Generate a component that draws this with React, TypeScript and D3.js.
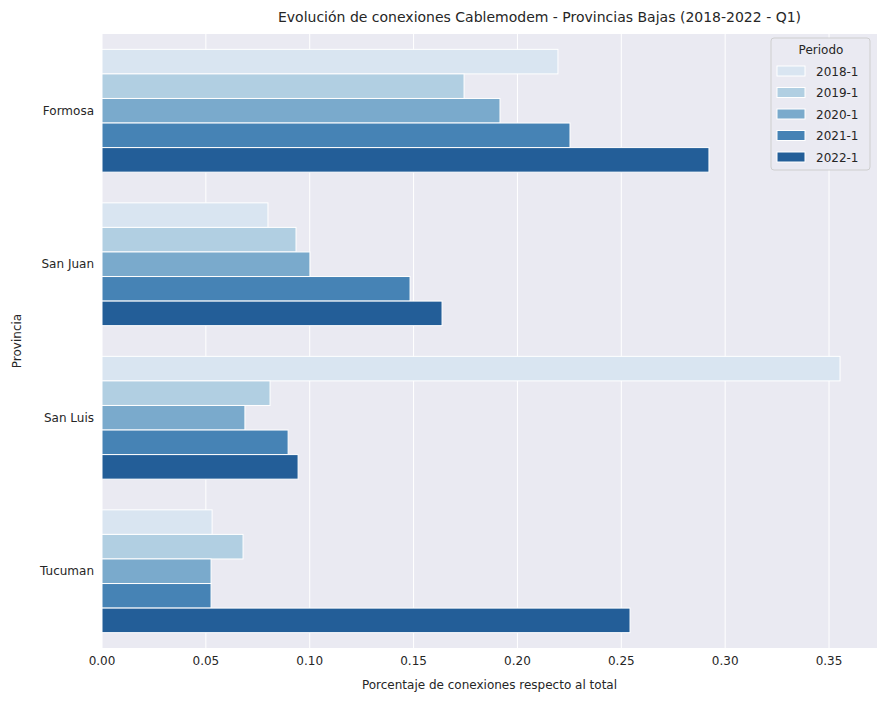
import { useEffect, useRef } from 'react'
import * as d3 from 'd3'

const PROVINCES = ['Formosa', 'San Juan', 'San Luis', 'Tucuman']
const PERIODS = ['2018-1', '2019-1', '2020-1', '2021-1', '2022-1']
const COLORS = ['#d9e5f1', '#b1cfe2', '#7aaacc', '#4683b5', '#235e98']
// values per province, one per period
const FORMOSA = [0.2195, 0.1743, 0.1916, 0.2253, 0.2922]
const SAN_JUAN = [0.0799, 0.0934, 0.1001, 0.1483, 0.1637]
const SAN_LUIS = [0.3553, 0.0809, 0.0688, 0.0896, 0.0944]
const TUCUMAN = [0.053, 0.0679, 0.0525, 0.0525, 0.2542]
const VALUES = [FORMOSA, SAN_JUAN, SAN_LUIS, TUCUMAN]
const X_TICKS = [0, 0.05, 0.1, 0.15, 0.2, 0.25, 0.3, 0.35]

export default function App() {
  const svgRef = useRef<SVGSVGElement>(null)

  useEffect(() => {
    const svg = d3.select(svgRef.current)
    svg.selectAll('*').remove()
    const font = '"DejaVu Sans", sans-serif'
    const left = 102, right = 877, top = 34, bottom = 648

    const x = d3.scaleLinear().domain([0, 0.3731]).range([left, right])
    const y = d3.scaleBand().domain(PROVINCES).range([top, bottom]).paddingInner(0.2).paddingOuter(0.1)
    const inner = d3.scaleBand().domain(PERIODS).range([0, y.bandwidth()])

    svg.append('rect').attr('x', left).attr('y', top).attr('width', right - left).attr('height', bottom - top).attr('fill', '#eaeaf2')

    X_TICKS.forEach(t => {
      svg.append('line').attr('x1', x(t)).attr('x2', x(t)).attr('y1', top).attr('y2', bottom).attr('stroke', '#fff').attr('stroke-width', 1)
      svg.append('text').attr('x', x(t)).attr('y', bottom + 17).attr('text-anchor', 'middle')
        .attr('font-size', 12).attr('font-family', font).attr('fill', '#262626').text(t.toFixed(2))
    })

    PROVINCES.forEach((p, i) => {
      PERIODS.forEach((per, j) => {
        svg.append('rect')
          .attr('x', x(0)).attr('y', y(p)! + inner(per)!)
          .attr('width', x(VALUES[i][j]) - x(0)).attr('height', inner.bandwidth())
          .attr('fill', COLORS[j]).attr('stroke', '#fff').attr('stroke-width', 1)
      })
      svg.append('text').attr('x', left - 8).attr('y', y(p)! + y.bandwidth() / 2 + 4)
        .attr('text-anchor', 'end').attr('font-size', 12).attr('font-family', font).attr('fill', '#262626').text(p)
    })

    svg.append('text').attr('x', (left + right) / 2 + 50).attr('y', 22).attr('text-anchor', 'middle')
      .attr('font-size', 14).attr('font-family', font).attr('fill', '#262626')
      .text('Evolución de conexiones Cablemodem - Provincias Bajas (2018-2022 - Q1)')
    svg.append('text').attr('x', (left + right) / 2).attr('y', 689).attr('text-anchor', 'middle')
      .attr('font-size', 12).attr('font-family', font).attr('fill', '#262626')
      .text('Porcentaje de conexiones respecto al total')
    svg.append('text').attr('transform', `translate(21,${(top + bottom) / 2}) rotate(-90)`).attr('text-anchor', 'middle')
      .attr('font-size', 12).attr('font-family', font).attr('fill', '#262626').text('Provincia')

    const lg = svg.append('g').attr('transform', 'translate(771,38)')
    lg.append('rect').attr('width', 99).attr('height', 132).attr('rx', 3).attr('fill', '#eaeaf2').attr('stroke', '#cccccc').attr('opacity', 0.9)
    lg.append('text').attr('x', 50).attr('y', 16).attr('text-anchor', 'middle').attr('font-size', 12).attr('font-family', font).attr('fill', '#262626').text('Periodo')
    PERIODS.forEach((per, j) => {
      const yy = 28 + j * 21.5
      lg.append('rect').attr('x', 6).attr('y', yy).attr('width', 28).attr('height', 10).attr('fill', COLORS[j]).attr('stroke', '#fff')
      lg.append('text').attr('x', 45).attr('y', yy + 9.5).attr('font-size', 12).attr('font-family', font).attr('fill', '#262626').text(per)
    })
  }, [])

  return <svg ref={svgRef} width={886} height={702} style={{ position: 'absolute', left: 0, top: 0, background: '#fff' }} />
}
